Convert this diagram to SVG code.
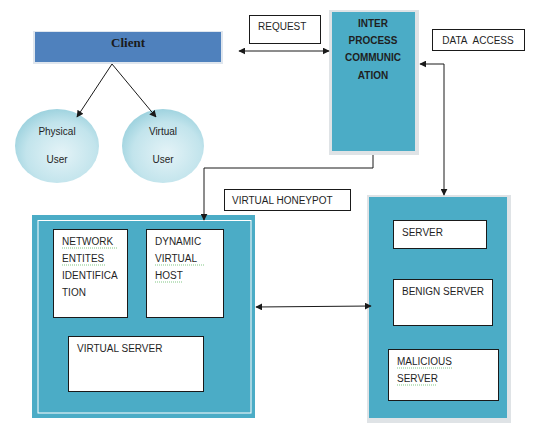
<svg xmlns="http://www.w3.org/2000/svg" width="534" height="428" viewBox="0 0 534 428">
  <style>
    .t { font-family: "Liberation Sans", Arial, sans-serif; font-size: 10px; fill: #1f1f1f; }
    .tb { font-family: "Liberation Sans", Arial, sans-serif; font-size: 10px; font-weight: bold; fill: #1f1f1f; }
    .box { fill: #ffffff; stroke: #1a1a1a; stroke-width: 1; }
    .teal { fill: #4bacc6; }
    .edge { fill: none; stroke: #1a1a1a; stroke-width: 1; }
    .squig { fill: none; stroke: #4caf50; stroke-width: 0.7; stroke-dasharray: 1 1; }
  </style>
  <defs>
    <marker id="ah" viewBox="0 0 10 10" refX="9" refY="5" markerWidth="7" markerHeight="7" orient="auto-start-reverse" markerUnits="userSpaceOnUse">
      <path d="M0,0 L10,5 L0,10 z" fill="#1a1a1a"/>
    </marker>
    <radialGradient id="bubble" cx="0.55" cy="0.6" r="0.6">
      <stop offset="0" stop-color="#e4f3f7"/>
      <stop offset="0.7" stop-color="#c2e4ec"/>
      <stop offset="1" stop-color="#9fd3df"/>
    </radialGradient>
  </defs>

  <rect width="534" height="428" fill="#ffffff"/>

  <!-- client -->
  <g id="client">
    <rect x="33" y="31" width="190" height="33" fill="#dfe6ee"/>
    <rect x="35" y="32" width="186" height="30" fill="#4f81bd"/>
    <text x="128" y="47" text-anchor="middle" font-family="'Liberation Serif', 'Times New Roman', serif" font-size="13" font-weight="bold" fill="#1a1a1a">Client</text>
  </g>

  <g id="physical-user">
    <ellipse cx="57" cy="146" rx="42" ry="37" fill="url(#bubble)"/>
    <text class="t" x="57" y="135" text-anchor="middle">Physical</text>
    <text class="t" x="57" y="163" text-anchor="middle">User</text>
  </g>

  <g id="virtual-user">
    <ellipse cx="163" cy="146" rx="41" ry="37" fill="url(#bubble)"/>
    <text class="t" x="163" y="135" text-anchor="middle">Virtual</text>
    <text class="t" x="163" y="163" text-anchor="middle">User</text>
  </g>

  <g id="request">
    <rect class="box" x="249.5" y="15.5" width="71" height="28"/>
    <text class="t" x="258" y="30">REQUEST</text>
  </g>

  <g id="ipc">
    <rect x="329" y="10" width="90" height="145" fill="#dfe3e6"/>
    <rect class="teal" x="332" y="12" width="83" height="139"/>
    <text class="tb" x="373" y="27" text-anchor="middle">INTER</text>
    <text class="tb" x="373" y="44" text-anchor="middle">PROCESS</text>
    <text class="tb" x="373" y="61" text-anchor="middle">COMMUNIC</text>
    <text class="tb" x="373" y="79" text-anchor="middle">ATION</text>
  </g>

  <g id="data-access">
    <rect class="box" x="432.5" y="29.5" width="92" height="21"/>
    <text class="t" x="478" y="44" text-anchor="middle">DATA&#160; ACCESS</text>
  </g>

  <g id="virtual-honeypot-label">
    <rect class="box" x="224.5" y="189.5" width="126" height="21"/>
    <text class="t" x="232" y="204">VIRTUAL HONEYPOT</text>
  </g>

  <!-- honeypot container -->
  <g id="honeypot">
    <rect class="teal" x="32" y="215" width="223" height="203"/>
    <rect x="38" y="220.5" width="213" height="192.5" fill="none" stroke="#ffffff" stroke-width="1"/>
  </g>

  <g id="network-entities">
    <rect class="box" x="53.5" y="229.5" width="74" height="88"/>
    <text class="t" x="62" y="245">NETWORK</text>
    <text class="t" x="62" y="262">ENTITES</text>
    <text class="t" x="62" y="279">IDENTIFICA</text>
    <text class="t" x="62" y="296">TION</text>
    <path class="squig" d="M62,248 h56 M62,265 h43"/>
  </g>

  <g id="dynamic-host">
    <rect class="box" x="146.5" y="229.5" width="77" height="88"/>
    <text class="t" x="155" y="245">DYNAMIC</text>
    <text class="t" x="155" y="262">VIRTUAL</text>
    <text class="t" x="155" y="279">HOST</text>
    <path class="squig" d="M155,265 h50 M155,282 h28"/>
  </g>

  <g id="virtual-server">
    <rect class="box" x="68.5" y="336.5" width="135" height="55"/>
    <text class="t" x="77" y="352">VIRTUAL SERVER</text>
  </g>

  <!-- server container -->
  <g id="servers">
    <rect x="367" y="195" width="144" height="228" fill="#dfe3e6"/>
    <rect class="teal" x="369" y="197" width="138" height="221"/>
  </g>

  <g id="server">
    <rect class="box" x="393.5" y="220.5" width="93" height="28"/>
    <text class="t" x="402" y="236">SERVER</text>
  </g>

  <g id="benign-server">
    <rect class="box" x="393.5" y="279.5" width="99" height="46"/>
    <text class="t" x="402" y="295">BENIGN SERVER</text>
  </g>

  <g id="malicious-server">
    <rect class="box" x="388.5" y="349.5" width="110" height="51"/>
    <text class="t" x="397" y="365">MALICIOUS</text>
    <text class="t" x="397" y="382">SERVER</text>
    <path class="squig" d="M397,368 h55 M397,385 h39"/>
  </g>

  <!-- connectors, drawn last so the arrowheads sit on top of the shapes -->
  <g id="connectors">
    <line class="edge" x1="112" y1="64" x2="77" y2="117" marker-end="url(#ah)"/>
    <line class="edge" x1="112" y1="64" x2="156" y2="117" marker-end="url(#ah)"/>
    <line class="edge" x1="239" y1="51" x2="329" y2="51" marker-start="url(#ah)" marker-end="url(#ah)"/>
    <polyline class="edge" points="420,64 444,64 444,195" marker-start="url(#ah)" marker-end="url(#ah)"/>
    <polyline class="edge" points="373,155 373,168 204,168 204,220" stroke="#555" marker-end="url(#ah)"/>
    <line class="edge" x1="256" y1="307" x2="371" y2="306" marker-start="url(#ah)" marker-end="url(#ah)"/>
  </g>
</svg>
